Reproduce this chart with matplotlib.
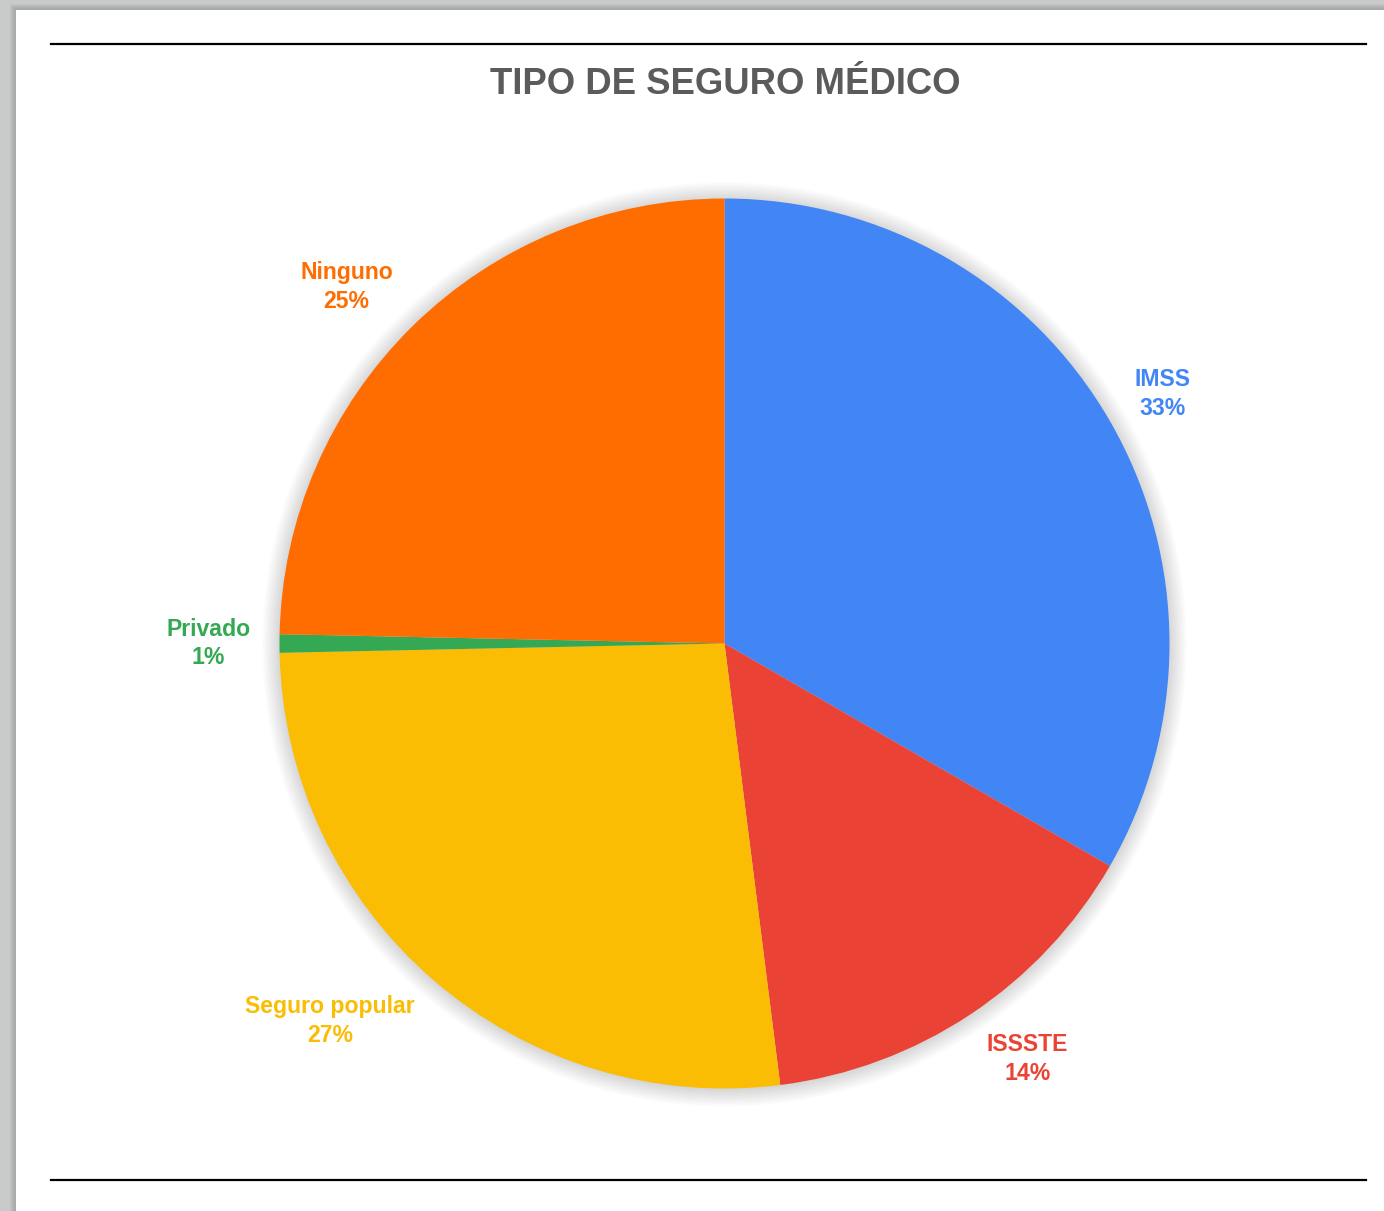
import numpy as np
import matplotlib
matplotlib.use("Agg")
import matplotlib.pyplot as plt
from matplotlib.patches import Rectangle, Circle
from matplotlib.lines import Line2D

plt.rcParams['font.family'] = ['Liberation Sans', 'DejaVu Sans']

# datos del gráfico
categorias = ["IMSS", "ISSSTE", "Seguro popular", "Privado", "Ninguno"]
valores = [50, 22, 40, 1, 37]
colores = ["#4285F4", "#EA4335", "#FBBC04", "#34A853", "#FF6D01"]
titulo = "TIPO DE SEGURO MÉDICO"

# porcentajes redondeados para que sumen 100 (como hace Google Sheets)
total = sum(valores)
exactos = [v * 100 / total for v in valores]
enteros = [int(np.floor(p)) for p in exactos]
faltan = 100 - sum(enteros)
orden = sorted(range(len(exactos)), key=lambda i: exactos[i] - enteros[i], reverse=True)
for i in orden[:faltan]:
    enteros[i] += 1
etiquetas = [f"{c}\n{p}%" for c, p in zip(categorias, enteros)]

W, H = 1384, 1211
fig = plt.figure(figsize=(W / 100, H / 100), dpi=100)
fig.patch.set_facecolor("#c9cbca")

# hoja blanca con sombra
for k in range(5):
    fig.patches.append(Rectangle(((14 - k) / W, 0), 1, 1 - (8 - k) / H, transform=fig.transFigure,
                                 facecolor="black", alpha=0.03, edgecolor="none", zorder=0))
fig.patches.append(Rectangle((16 / W, 0), 1, 1 - 10 / H, transform=fig.transFigure,
                             facecolor="white", edgecolor="none", zorder=1))

# lineas negras arriba y abajo
for yy in [44, 1180]:
    fig.lines.append(Line2D([51 / W, 1366 / W], [1 - yy / H, 1 - yy / H], transform=fig.transFigure,
                            color="black", linewidth=1.6, zorder=2))

fig.text(725 / W, 1 - 84 / H, titulo, ha="center", va="center", fontsize=26.3,
         fontweight="bold", color="#5b5b5b", zorder=3)

# ejes del pie
cx, cy, R = 724.5, 643.5, 445
half = 560
ax = fig.add_axes([(cx - half) / W, (H - cy - half) / H, 2 * half / W, 2 * half / H])
ax.set_zorder(3)

# sombra suave
for k in range(14):
    ax.add_patch(Circle((0, -0.002), 1 + 0.003 * k, color="black", alpha=0.012, linewidth=0, zorder=0))

wedges, _ = ax.pie(valores, colors=colores, startangle=90, counterclock=False,
                   wedgeprops=dict(linewidth=0), radius=1)
for w in wedges:
    w.set_zorder(2)

# pie() fija sus propios limites, asi que se ponen despues
lim = half / R
ax.set_xlim(-lim, lim)
ax.set_ylim(-lim, lim)
ax.set_aspect("equal")
ax.axis("off")

for w, lab, col in zip(wedges, etiquetas, colores):
    mid = np.deg2rad((w.theta1 + w.theta2) / 2)
    c, s = np.cos(mid), np.sin(mid)
    x = 1.065 * c
    y = 1.065 * s + 0.056 * s
    ha = "left" if c > 0 else "right"
    ax.text(x, y, lab, ha=ha, va="center", ma="center", fontsize=16.6, fontweight="bold",
            color=col, linespacing=1.3, zorder=4)

fig.savefig("out.png", dpi=100, facecolor=fig.get_facecolor())
